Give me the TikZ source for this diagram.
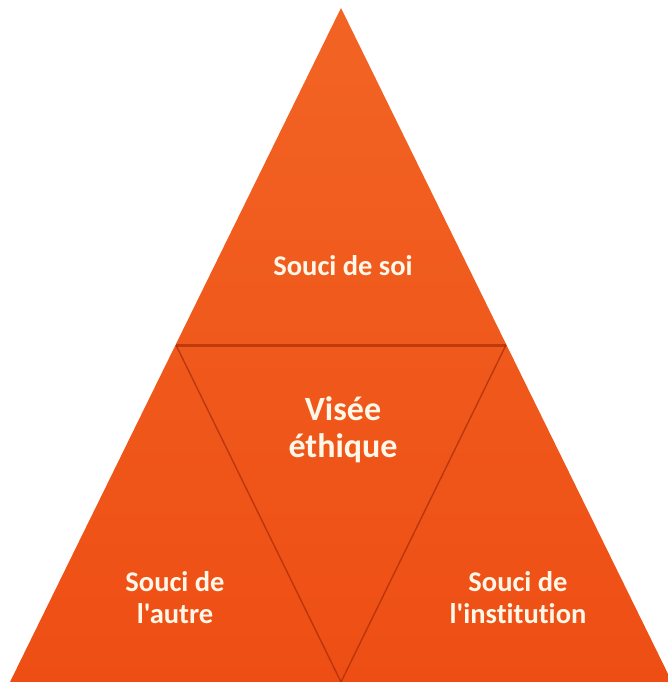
\documentclass[tikz,border=0pt]{standalone}
\usepackage{fontspec}
\setmainfont{Carlito}[Ligatures={NoCommon},Mapping=none]
\definecolor{orangetop}{RGB}{242,100,36}
\definecolor{orangebot}{RGB}{238,78,20}
\definecolor{foldred}{RGB}{170,45,10}
\definecolor{txtwhite}{RGB}{255,247,232}
\begin{document}
\begin{tikzpicture}[x=1pt,y=-1pt,
  lbl/.style={text=txtwhite,font=\bfseries\fontsize{28.5}{32}\selectfont,align=center,inner sep=0pt},
  biglbl/.style={text=txtwhite,font=\bfseries\fontsize{34}{37}\selectfont,align=center,inner sep=0pt},
  fold/.style={draw=foldred,line width=1.4pt,opacity=0.75},
  mainfold/.style={draw=foldred,line width=3pt,opacity=0.7}]
\useasboundingbox (0,0) rectangle (668,682);
\coordinate (apex) at (341,8);
\coordinate (bl) at (10,682);
\coordinate (br) at (672,682);
\coordinate (ml) at (176,345);
\coordinate (mr) at (506,345);
\coordinate (mb) at (341,682);
\begin{scope}
\clip (0,0) rectangle (668,682);
\shade[top color=orangetop,bottom color=orangebot] (apex) -- (bl) -- (br) -- cycle;
\draw[mainfold] (ml) -- (mr);
\draw[fold] (ml) -- (mb);
\draw[fold] (mr) -- (mb);
\end{scope}
\node[lbl] (soi) at (343,266) {Souci de soi};
\node[biglbl] (visee) at (343,430) {Visée\\éthique};
\node[lbl] (autre) at (175,598) {Souci de\\l'autre};
\node[lbl] (inst) at (518,598) {Souci de\\l'institution};
\end{tikzpicture}
\end{document}
